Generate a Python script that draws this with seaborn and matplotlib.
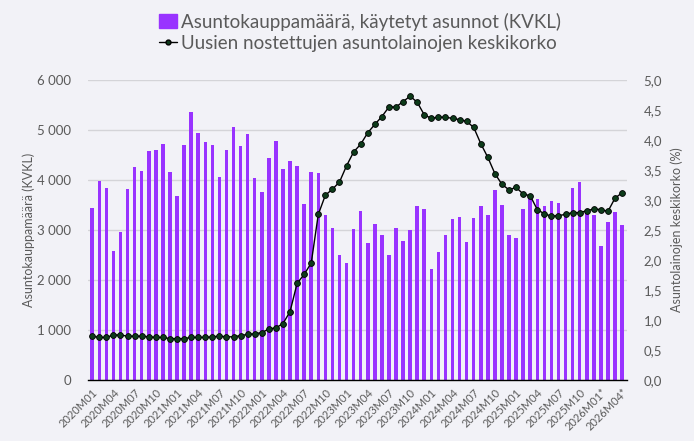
import numpy as np
import pandas as pd
import matplotlib
matplotlib.use("Agg")
import matplotlib.pyplot as plt
import matplotlib.ticker as mticker
import seaborn as sns
from matplotlib.patches import Patch
from matplotlib.lines import Line2D

# ── data ─────────────────────────────────────────────────────────────────────
months = [f"{y}M{m:02d}" for y in range(2020, 2026) for m in range(1, 13)]
months += ["2026M01*", "2026M02*", "2026M03*", "2026M04*"]

kaupat = [3450, 3980, 3850, 2580, 2970, 3820, 4260, 4190, 4590, 4610, 4730, 4170,
          3690, 4700, 5360, 4950, 4770, 4700, 4070, 4600, 5060, 4690, 4920, 4050,
          3770, 4450, 4790, 4230, 4380, 4280, 3530, 4170, 4140, 3310, 3040, 2510,
          2350, 3020, 3390, 2740, 3130, 2910, 2510, 3050, 2790, 3000, 3490, 3430,
          2220, 2570, 2900, 3230, 3260, 2760, 3240, 3490, 3300, 3810, 3510, 2910,
          2850, 3420, 3650, 3620, 3490, 3590, 3550, 3340, 3840, 3960, 3400, 3310,
          2690, 3170, 3370, 3100]

korko = [0.73, 0.71, 0.71, 0.75, 0.75, 0.73, 0.73, 0.73, 0.72, 0.71, 0.71, 0.69,
         0.69, 0.69, 0.71, 0.71, 0.71, 0.72, 0.73, 0.72, 0.72, 0.74, 0.76, 0.77,
         0.79, 0.85, 0.87, 0.94, 1.14, 1.61, 1.76, 1.95, 2.76, 3.08, 3.18, 3.30,
         3.57, 3.80, 3.93, 4.12, 4.26, 4.39, 4.55, 4.55, 4.64, 4.73, 4.63, 4.42,
         4.36, 4.38, 4.38, 4.36, 4.34, 4.31, 4.21, 3.94, 3.71, 3.44, 3.26, 3.17,
         3.21, 3.10, 3.07, 2.84, 2.77, 2.73, 2.74, 2.76, 2.79, 2.79, 2.82, 2.85,
         2.84, 2.81, 3.03, 3.12]

BAR_LABEL = "Asuntokauppamäärä, käytetyt asunnot (KVKL)"
LINE_LABEL = "Uusien nostettujen asuntolainojen keskikorko"

BG = "#f2f2f7"
PURPLE = "#9933ff"
GREEN = "#0d3b1a"
TXT = "#5a5a5a"

df = pd.DataFrame({"kk": months, "kaupat": kaupat, "korko": korko})
df["i"] = np.arange(len(df))

sns.set_style("white")
plt.rcParams["font.family"] = ["Lato", "DejaVu Sans"]

fig = plt.figure(figsize=(6.94, 4.41), dpi=100, facecolor=BG)
ax = fig.add_axes([88 / 694, 1 - 380 / 441, (627 - 88) / 694, 300 / 441])
ax.set_facecolor(BG)

sns.barplot(data=df, x="i", y="kaupat", color=PURPLE, width=0.5,
            saturation=1, linewidth=0, ax=ax, zorder=2)
ax.set_ylim(0, 6000)
ax.yaxis.set_major_locator(mticker.MultipleLocator(1000))
ax.yaxis.set_major_formatter(mticker.FuncFormatter(lambda v, p: f"{int(v):,}".replace(",", " ")))
ax.grid(axis="y", color="#d4d4d8", linewidth=1, zorder=0)
ax.set_axisbelow(True)

ax2 = ax.twinx()
sns.lineplot(data=df, x="i", y="korko", ax=ax2, color="black", linewidth=1,
             marker="o", markersize=4.2, markerfacecolor=GREEN,
             markeredgecolor="black", markeredgewidth=0.6, zorder=3)
ax2.set_ylim(0, 5)
ax2.yaxis.set_major_locator(mticker.MultipleLocator(0.5))
ax2.yaxis.set_major_formatter(mticker.FuncFormatter(lambda v, p: f"{v:.1f}".replace(".", ",")))

ax.set_xlim(-0.6, 75.7)
ax.set_xticks(df["i"])
ax.set_xticklabels([m if k % 3 == 0 else "" for k, m in enumerate(months)],
                   rotation=45, ha="right", rotation_mode="anchor",
                   fontsize=8, color=TXT)
ax.tick_params(axis="x", length=3, width=0.8, color="black", pad=2)
ax.tick_params(axis="y", length=0, labelsize=9.5, labelcolor=TXT, pad=12)
ax2.tick_params(axis="y", length=0, labelsize=9.5, labelcolor=TXT, pad=12)

ax.set_xlabel("")
ax.set_ylabel("Asuntokauppamäärä (KVKL)", fontsize=9, color=TXT, labelpad=2)
ax2.set_xlabel("")
ax2.set_ylabel("Asuntolainojen keskikorko (%)", fontsize=9, color=TXT, labelpad=6)

for a in (ax, ax2):
    for s in ["top", "right", "left"]:
        a.spines[s].set_visible(False)
ax2.spines["bottom"].set_visible(False)
ax.spines["bottom"].set_color("black")
ax.spines["bottom"].set_linewidth(1)

handles = [Patch(color=PURPLE, label=BAR_LABEL),
           Line2D([0], [0], color="black", linewidth=1, marker="o", markersize=3.5,
                  markerfacecolor=GREEN, markeredgecolor="black", label=LINE_LABEL)]
fig.legend(handles=handles, loc="upper left", bbox_to_anchor=(151 / 694, 1 - 5 / 441),
           frameon=False, fontsize=13.5, labelcolor=TXT, handlelength=1.0,
           handleheight=0.8, handletextpad=0.2, labelspacing=0.25, borderaxespad=0)

fig.savefig("out.png", dpi=100, facecolor=BG)
